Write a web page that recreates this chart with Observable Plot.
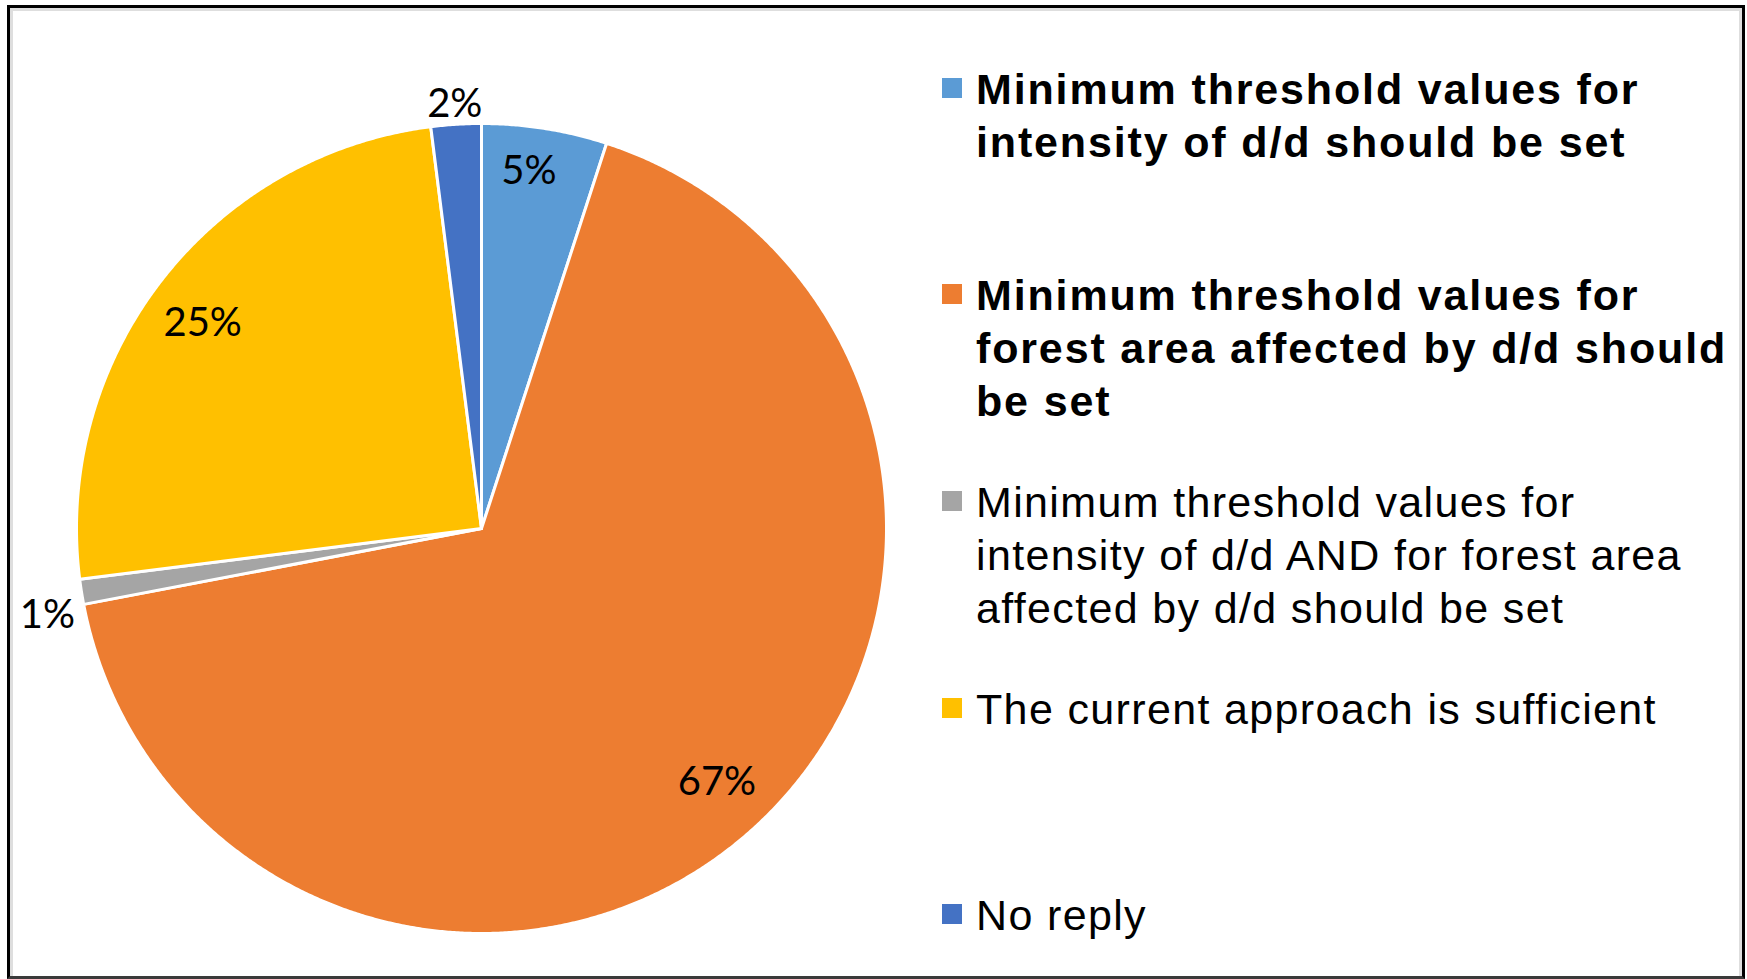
<!DOCTYPE html>
<html>
<head>
<meta charset="utf-8">
<script src="https://cdn.jsdelivr.net/npm/d3@7"></script>
<script src="https://cdn.jsdelivr.net/npm/@observablehq/plot@0.6"></script>
<style>
  html, body { margin: 0; padding: 0; background: #fff; }
  #page { position: relative; width: 1747px; height: 979px; overflow: hidden; background: #fff; }
  #chart { position: absolute; left: 0; top: 0; }
  #frame {
    position: absolute; left: 7px; top: 5px; width: 1738px; height: 974px;
    box-sizing: border-box;
    border-top: 3px solid #000; border-left: 3px solid #000; border-right: 3px solid #000;
    border-bottom: 3px solid #3a3a3a;
    box-shadow: inset 3px 3px 0 #dedede, inset -3px 0 0 #dedede;
    pointer-events: none;
  }
  .entry { position: absolute; left: 976px; font-family: "Liberation Sans", Arial, sans-serif;
           font-size: 43px; line-height: 53px; letter-spacing: 1.35px; color: #000; white-space: nowrap; }
  .entry.bold { font-weight: bold; letter-spacing: 1.85px; }
  .swatch { position: absolute; left: 942px; width: 20px; height: 20px; }
</style>
</head>
<body>
<div id="page">
  <div id="chart"></div>
  <div id="legend"></div>
  <div id="frame"></div>
</div>
<script>
// ---- data ----
const categories = [
  "Minimum threshold values for intensity of d/d should be set",
  "Minimum threshold values for forest area affected by d/d should be set",
  "Minimum threshold values for intensity of d/d AND for forest area affected by d/d should be set",
  "The current approach is sufficient",
  "No reply"
];
const values = [5, 67, 1, 25, 2];
const valueLabels = ["5%", "67%", "1%", "25%", "2%"];
const colors = ["#5B9BD5", "#ED7D31", "#A5A5A5", "#FFC000", "#4472C4"];
const legendLines = [
  ["Minimum threshold values for", "intensity of d/d should be set"],
  ["Minimum threshold values for", "forest area affected by d/d should", "be set"],
  ["Minimum threshold values for", "intensity of d/d AND for forest area", "affected by d/d should be set"],
  ["The current approach is sufficient"],
  ["No reply"]
];
const legendBaselines = [104, 310, 517, 724, 930];

// ---- pie geometry (angles clockwise from 12 o'clock) ----
const total = d3.sum(values);
let acc = 0;
const slices = values.map((v, i) => {
  const a0 = acc / total * 2 * Math.PI;
  acc += v;
  const a1 = acc / total * 2 * Math.PI;
  return {cat: categories[i], value: v, label: valueLabels[i], a0, a1, mid: (a0 + a1) / 2};
});
const pts = slices.flatMap(s => {
  const n = Math.max(4, Math.ceil((s.a1 - s.a0) / 0.005));
  const arr = [{cat: s.cat, x: 0, y: 0}];
  for (let k = 0; k <= n; k++) {
    const a = s.a0 + (s.a1 - s.a0) * k / n;
    arr.push({cat: s.cat, x: Math.sin(a), y: Math.cos(a)});
  }
  arr.push({cat: s.cat, x: 0, y: 0});
  return arr;
});
// best-fit style label placement: inside for larger slices, outside for small ones
const inside = s => s.value >= 5;
const labelR = s => inside(s) ? (s.value > 10 ? 0.855 : 0.89) : (Math.abs(Math.sin(s.mid)) > 0.7 ? 1.085 : 1.05);
const labelA = s => inside(s) ? s.mid - 0.025 : s.mid;
const sideDrop = s => (!inside(s) && Math.abs(Math.sin(s.mid)) > 0.7) ? 0.045 : 0;

const cx = 481, cy = 528, R = 405;
const plot = Plot.plot({
  width: 1747,
  height: 979,
  margin: 0,
  style: {background: "transparent"},
  x: {domain: [-1, 1], range: [cx - R, cx + R], axis: null},
  y: {domain: [-1, 1], range: [cy + R, cy - R], axis: null},
  color: {domain: categories, range: colors},
  marks: [
    Plot.line(pts, {x: "x", y: "y", z: "cat", fill: "cat", stroke: "white",
                    strokeWidth: 3, strokeLinejoin: "round"}),
    Plot.text(slices, {
      x: s => labelR(s) * Math.sin(labelA(s)),
      y: s => labelR(s) * Math.cos(labelA(s)) - sideDrop(s),
      text: "label",
      fontSize: 40,
      fontFamily: "Lato, 'Open Sans', sans-serif",
      fill: "#000"
    })
  ]
});
document.getElementById("chart").appendChild(plot);

// ---- legend ----
const legend = document.getElementById("legend");
legendLines.forEach((lines, i) => {
  const base = legendBaselines[i];
  const sw = document.createElement("div");
  sw.className = "swatch";
  sw.style.top = (base - 26) + "px";
  sw.style.background = colors[i];
  legend.appendChild(sw);
  const t = document.createElement("div");
  t.className = "entry" + (i < 2 ? " bold" : "");
  t.style.top = (base - 41.4) + "px";
  t.innerHTML = lines.map(l => l.replace(/&/g, "&amp;").replace(/</g, "&lt;")).join("<br>");
  legend.appendChild(t);
});
</script>
</body>
</html>
